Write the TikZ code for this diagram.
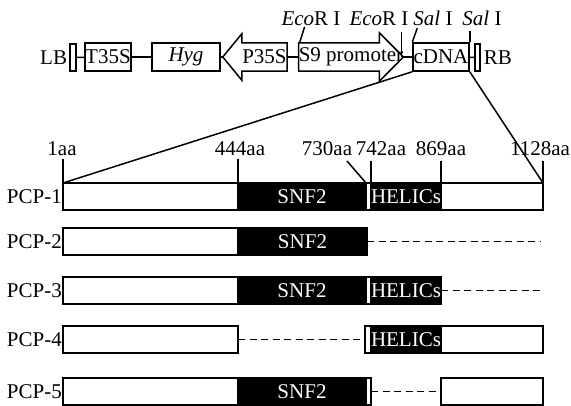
\documentclass[tikz,border=0pt]{standalone}
\usepackage{fontspec}
\setmainfont{Liberation Serif}
\usetikzlibrary{positioning,calc}
\tikzset{
  part/.style={draw, line width=1.5pt, minimum height=28pt, inner sep=0pt,
    font=\fontsize{21}{23}\selectfont},
  lbl/.style={inner sep=0pt, font=\fontsize{21}{23}\selectfont},
  bar/.style={draw, line width=1.5pt, minimum height=27pt, inner sep=0pt,
    outer sep=0pt, anchor=west, font=\fontsize{21}{23}\selectfont},
  blk/.style={bar, fill=black, text=white},
  lnk/.style={line width=1.5pt},
  gapline/.style={line width=1.5pt, dash pattern=on 7pt off 4.5pt}
}
\begin{document}
\begin{tikzpicture}[x=1pt, y=-1pt]
    \useasboundingbox (0,0) rectangle (571,406);
    % vector map
    \node[part, minimum width=6pt, minimum height=27pt] (lb) at (73,57.5) {};
    \node[lbl, left=2pt of lb] (lbt) {LB};
    \node[part, minimum width=46pt] (t35s) at (108,57) {T35S};
    \node[part, minimum width=68pt] (hyg) at (186,57) {\itshape Hyg};
    \node[lbl, minimum width=45pt, minimum height=28pt] (p35s) at (264.5,57) {P35S};
    \coordinate (p35tip) at ($(p35s.west)+(-19,0)$);
    \draw[lnk] (p35s.north west) -- (p35s.north east) -- (p35s.south east)
      -- (p35s.south west) -- ++(0,9) -- (p35tip) -- ($(p35s.north west)+(0,-9)$) -- cycle;
    \node[lbl, minimum width=104pt, minimum height=28pt] (s9) at (351,57) {S9 promoter};
    \draw[lnk] (s9.east) -- ($(s9.north east)+(-24,-10)$) -- ($(s9.north east)+(-24,0)$)
      -- (s9.north west) -- (s9.south west) -- ($(s9.south east)+(-24,0)$)
      -- ($(s9.south east)+(-24,10)$) -- cycle;
    \node[part, minimum width=56pt] (cdna) at (441,57) {cDNA};
    \node[part, minimum width=5pt, minimum height=27pt] (rb) at (477.5,57.5) {};
    \node[lbl, right=3pt of rb] (rbt) {RB};
    \draw[lnk] (lb) -- (t35s);
    \draw[lnk] (t35s) -- (hyg);
    \draw[lnk] (hyg) -- (p35tip);
    \draw[lnk] (p35s.east) -- (s9.west);
    \draw[lnk] (s9.east) -- (cdna.west);
    \draw[lnk] (cdna) -- (rb);
    % restriction sites
    \node[lbl, anchor=base] (eco1) at (311,26) {\textit{Eco}R I};
    \node[lbl, anchor=base] (eco2) at (379,26) {\textit{Eco}R I};
    \node[lbl, anchor=base] (sal1) at (433,26) {\textit{Sal} I};
    \node[lbl, anchor=base] (sal2) at (482,26) {\textit{Sal} I};
    \draw[lnk] ([xshift=1pt]s9.north west) -- ++(5,-16);
    \draw[lnk] ([xshift=-2pt]s9.east) -- ++(0,-25);
    \draw[lnk] (cdna.north west) -- ++(5,-14);
    \draw[lnk] (cdna.north east) -- ++(0,-11);
    % PCP-1
    \node[bar, minimum width=175pt] (r1a) at (63,196.5) {};
    \node[blk, minimum width=128pt, right=0pt of r1a] (r1b) {SNF2};
    \node[bar, minimum width=5pt, right=0pt of r1b] (r1c) {};
    \node[blk, minimum width=70pt, right=0pt of r1c] (r1d) {HELICs};
    \node[bar, minimum width=102pt, right=0pt of r1d] (r1e) {};
    \node[lbl, left=1pt of r1a] (l1) {PCP-1};
    % PCP-2
    \node[bar, minimum width=175pt] (r2a) at (63,241.5) {};
    \node[blk, minimum width=129pt, right=0pt of r2a] (r2b) {SNF2};
    \coordinate (r2end) at (541,241.5);
    \draw[gapline] (r2b.east) -- (r2end);
    \node[lbl, left=1pt of r2a] (l2) {PCP-2};
    % PCP-3
    \node[bar, minimum width=175pt] (r3a) at (63,290.5) {};
    \node[blk, minimum width=128pt, right=0pt of r3a] (r3b) {SNF2};
    \node[bar, minimum width=5pt, right=0pt of r3b] (r3c) {};
    \node[blk, minimum width=70pt, right=0pt of r3c] (r3d) {HELICs};
    \coordinate (r3end) at (543,290.5);
    \draw[gapline] (r3d.east) -- (r3end);
    \node[lbl, left=1pt of r3a] (l3) {PCP-3};
    % PCP-4
    \node[bar, minimum width=175pt] (r4a) at (63,339.5) {};
    \node[bar, minimum width=6pt] (r4b) at (365,339.5) {};
    \node[blk, minimum width=70pt, right=0pt of r4b] (r4c) {HELICs};
    \node[bar, minimum width=102pt, right=0pt of r4c] (r4d) {};
    \draw[gapline] (r4a.east) -- (r4b.west);
    \node[lbl, left=1pt of r4a] (l4) {PCP-4};
    % PCP-5
    \node[bar, minimum width=175pt] (r5a) at (63,391.5) {};
    \node[blk, minimum width=128pt, right=0pt of r5a] (r5b) {SNF2};
    \node[bar, minimum width=5pt, right=0pt of r5b] (r5c) {};
    \node[bar, minimum width=102pt] (r5d) at (441,391.5) {};
    \draw[gapline] (r5c.east) -- (r5d.west);
    \node[lbl, left=1pt of r5a] (l5) {PCP-5};
    % zoom lines and positions
    \draw[lnk] (cdna.south west) -- (r1a.north west);
    \draw[lnk] (cdna.south east) -- (r1e.north east);
    \node[lbl, anchor=base] (n1) at (62,156) {1aa};
    \node[lbl, anchor=base] (n444) at (240,156) {444aa};
    \node[lbl, anchor=base] (n730) at (327,156) {730aa};
    \node[lbl, anchor=base] (n742) at (381,156) {742aa};
    \node[lbl, anchor=base] (n869) at (441,156) {869aa};
    \node[lbl, anchor=base] (n1128) at (540,156) {1128aa};
    \draw[lnk] (r1a.north west) -- ++(0,-24);
    \draw[lnk] (r1b.north west) -- ++(0,-24);
    \draw[lnk] (r1b.north east) -- ++(-19,-22);
    \draw[lnk] (r1d.north west) -- ++(0,-22);
    \draw[lnk] (r1d.north east) -- ++(0,-22);
    \draw[lnk] (r1e.north east) -- ++(0,-22);
\end{tikzpicture}
\end{document}
